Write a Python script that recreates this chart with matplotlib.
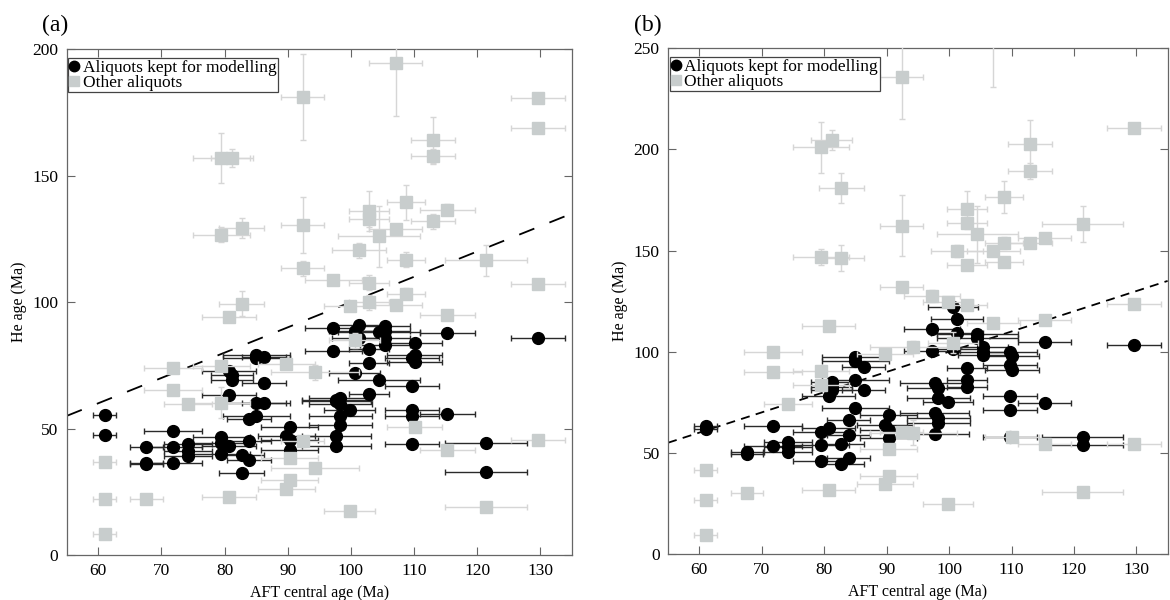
import matplotlib
matplotlib.use("Agg")
import matplotlib.pyplot as plt
from matplotlib.lines import Line2D

plt.rcParams['font.family'] = ['Liberation Serif', 'DejaVu Serif']

# AFT central ages of the samples and their errors (Ma)
aft_age = [61.0, 67.6, 71.8, 74.2, 79.5, 80.7, 81.2, 82.7, 83.9, 85.0, 86.3, 89.8, 90.3,
           92.4, 94.3, 97.2, 97.7, 98.3, 99.8, 100.6, 101.3, 102.9, 104.5, 105.4, 107.1,
           108.8, 109.7, 110.1, 113.0, 115.3, 121.4, 129.6]
aft_err = [1.8, 2.6, 4.6, 3.8, 4.5, 4.3, 3.3, 3.6, 3.5, 5.3, 3.5, 4.5, 4.5,
           3.4, 7.0, 4.5, 5.5, 5.0, 4.0, 4.0, 4.2, 3.2, 6.5, 4.0, 4.2,
           3.0, 4.3, 4.3, 3.5, 4.3, 6.5, 4.3]

# panel (a): kept aliquots
a_kept_x = [61.0, 61.0, 67.6, 67.6, 67.6, 71.8, 71.8, 71.8, 74.2, 74.2, 74.2,
            79.5, 79.5, 79.5, 80.7, 80.7, 80.7, 81.2, 81.2, 82.7, 82.7,
            83.9, 83.9, 83.9, 85.0, 85.0, 85.0, 85.0, 86.3, 86.3, 86.3,
            89.8, 90.3, 90.3, 90.3, 97.2, 97.2, 97.7, 97.7, 97.7, 97.7,
            98.3, 98.3, 98.3, 98.3, 99.8, 100.6, 100.6, 101.3, 101.3,
            102.9, 102.9, 102.9, 104.5, 104.5, 105.4, 105.4, 105.4, 105.4,
            109.7, 109.7, 109.7, 109.7, 109.7, 110.1, 110.1, 110.1,
            115.3, 115.3, 121.4, 121.4, 129.6]
a_kept_y = [55.4, 47.5, 42.8, 36.4, 36.0, 49.2, 42.8, 36.4, 44.0, 41.0, 39.0,
            46.6, 44.2, 40.0, 43.2, 72.6, 63.4, 71.0, 69.3, 39.6, 32.6,
            37.6, 44.9, 53.9, 79.2, 78.0, 60.0, 54.8, 78.3, 68.0, 60.0,
            46.9, 50.8, 45.5, 41.6, 89.8, 80.5, 61.4, 60.7, 47.1, 43.2,
            62.0, 59.6, 55.0, 51.5, 57.4, 88.4, 72.0, 91.1, 85.8,
            81.4, 75.9, 63.8, 88.0, 69.3, 90.4, 88.4, 86.0, 83.2,
            77.9, 66.9, 57.4, 55.0, 43.7, 84.0, 79.2, 76.4,
            87.8, 55.8, 44.2, 33.0, 85.8]
a_kept_yerr = [1.0] * len(a_kept_x)

# panel (a): other aliquots
a_other_x = [61.0, 61.0, 61.0, 67.6, 71.8, 71.8, 74.2, 79.5, 79.5, 79.5, 79.5,
             80.7, 80.7, 81.2, 82.7, 82.7, 89.8, 89.8, 90.3, 90.3,
             92.4, 92.4, 92.4, 92.4, 94.3, 94.3, 97.2, 99.8, 99.8, 100.6, 101.3,
             102.9, 102.9, 102.9, 102.9, 104.5, 107.1, 107.1, 107.1,
             108.8, 108.8, 108.8, 110.1, 113.0, 113.0, 113.0,
             115.3, 115.3, 115.3, 121.4, 121.4, 129.6, 129.6, 129.6, 129.6]
a_other_y = [36.6, 22.0, 8.2, 22.0, 73.9, 65.1, 59.8, 157.0, 126.7, 74.9, 60.3,
             94.0, 23.1, 157.0, 129.4, 99.4, 75.5, 26.0, 38.5, 29.7,
             181.0, 130.4, 113.3, 44.9, 72.2, 34.4, 108.9, 98.3, 17.5, 84.9, 120.5,
             136.0, 132.7, 107.6, 100.0, 126.0, 194.4, 129.0, 99.0,
             139.5, 116.8, 103.4, 50.8, 164.0, 157.7, 132.0,
             136.6, 95.0, 41.6, 116.5, 19.1, 180.6, 169.0, 107.2, 45.3]
a_other_yerr = [1.0, 1.0, 1.0, 1.0, 1.0, 1.0, 1.0, 10.0, 3.0, 2.0, 6.0,
                2.0, 1.0, 3.5, 4.0, 5.0, 2.0, 1.0, 1.0, 1.0,
                17.0, 11.0, 3.0, 2.0, 3.0, 2.0, 2.0, 2.0, 1.0, 3.0, 3.0,
                8.0, 3.0, 3.0, 3.0, 12.0, 21.0, 2.0, 2.0,
                7.0, 3.0, 2.0, 1.0, 9.0, 3.0, 3.0,
                2.0, 2.0, 1.0, 6.0, 1.0, 2.0, 2.0, 1.0, 1.0]

# panel (b): kept aliquots
b_kept_x = [61.0, 61.0, 67.6, 67.6, 71.8, 71.8, 74.2, 74.2, 74.2,
            79.5, 79.5, 79.5, 80.7, 80.7, 81.2, 81.2, 81.2, 82.7, 82.7,
            83.9, 83.9, 83.9, 85.0, 85.0, 85.0, 85.0, 86.3, 86.3,
            89.8, 90.3, 90.3, 90.3, 97.2, 97.2, 97.7, 97.7, 97.7,
            98.3, 98.3, 98.3, 98.3, 99.8, 100.6, 100.6, 101.3, 101.3,
            102.9, 102.9, 102.9, 104.5, 104.5, 105.4, 105.4, 105.4,
            109.7, 109.7, 109.7, 109.7, 109.7, 110.1, 110.1,
            115.3, 115.3, 121.4, 121.4, 129.6]
b_kept_y = [63.5, 61.8, 50.6, 49.4, 63.3, 53.5, 55.5, 53.0, 50.6,
            60.5, 53.7, 46.0, 62.1, 78.0, 82.6, 84.9, 81.1, 54.6, 44.6,
            66.2, 58.8, 47.3, 97.2, 95.5, 85.8, 72.0, 92.5, 81.1,
            64.0, 68.5, 61.5, 57.5, 111.4, 100.4, 84.4, 69.5, 59.3,
            82.2, 77.0, 67.1, 64.6, 75.3, 122.0, 101.5, 116.4, 109.2,
            92.0, 85.8, 82.4, 108.6, 106.6, 102.5, 100.0, 98.4,
            99.7, 93.4, 78.1, 71.2, 57.8, 98.0, 91.2,
            104.6, 74.5, 58.0, 53.7, 103.1]
b_kept_yerr = [1.5] * len(b_kept_x)

# panel (b): other aliquots
b_other_x = [61.0, 61.0, 61.0, 67.6, 71.8, 71.8, 74.2, 79.5, 79.5, 79.5, 79.5,
             80.7, 80.7, 81.2, 82.7, 82.7, 89.8, 89.8, 90.3, 90.3,
             92.4, 92.4, 92.4, 92.4, 94.3, 94.3, 97.2, 99.8, 99.8, 100.6, 101.3,
             102.9, 102.9, 102.9, 102.9, 104.5, 107.1, 107.1, 107.1,
             108.8, 108.8, 108.8, 110.1, 113.0, 113.0, 113.0,
             115.3, 115.3, 115.3, 121.4, 121.4, 129.6, 129.6, 129.6]
b_other_y = [41.5, 26.7, 9.4, 30.3, 99.7, 90.1, 74.0, 201.0, 147.0, 90.3, 83.5,
             112.7, 31.6, 204.7, 180.8, 146.2, 99.0, 34.6, 51.8, 38.6,
             236.0, 162.3, 131.8, 60.5, 102.5, 60.0, 127.7, 124.5, 24.7, 104.5, 149.8,
             170.5, 163.8, 142.9, 123.3, 158.0, 256.0, 150.0, 114.3,
             176.6, 153.9, 144.2, 58.0, 202.5, 189.3, 153.9,
             156.0, 115.5, 54.4, 163.0, 30.8, 210.4, 123.4, 54.4]
b_other_yerr = [1.0, 1.0, 1.0, 1.0, 1.0, 1.0, 1.0, 12.5, 4.0, 2.0, 2.0,
                1.0, 1.0, 5.0, 7.5, 6.5, 2.0, 1.0, 2.0, 1.0,
                21.0, 15.0, 2.0, 2.0, 3.0, 6.0, 3.0, 2.0, 1.0, 5.0, 3.0,
                9.0, 3.0, 2.0, 2.0, 14.0, 25.0, 2.0, 2.0,
                8.0, 3.0, 2.0, 1.0, 12.0, 4.0, 2.0,
                2.0, 2.0, 1.0, 9.0, 1.0, 2.0, 1.0, 1.0]

one_to_one = [55, 135]

GRAY = '#c8cdcd'
GRAY_BAR = '#d6d6d6'
SPINE = '#666666'


def xerr_of(xs):
    return [aft_err[aft_age.index(x)] for x in xs]


def draw_panel(ax, kept, other, ymax, dashes):
    kx, ky, kye = kept
    ox, oy, oye = other
    ax.plot(one_to_one, one_to_one, color='black', lw=1.3, dashes=dashes, zorder=1)
    ax.errorbar(kx, ky, xerr=xerr_of(kx), yerr=kye, fmt='o', ms=8.5, color='black',
                ecolor='#2a2a2a', elinewidth=1.0, capsize=2.5, capthick=1.0, zorder=2)
    ax.errorbar(ox, oy, xerr=xerr_of(ox), yerr=oye, fmt='s', ms=8, color=GRAY,
                ecolor=GRAY_BAR, elinewidth=1.0, capsize=2.5, capthick=1.0, zorder=3)
    ax.set_xlim(55, 135)
    ax.set_ylim(0, ymax)
    ax.set_xticks(range(60, 131, 10))
    ax.set_yticks(range(0, ymax + 1, 50))
    ax.tick_params(direction='in', top=True, right=True, length=6, width=0.8,
                   color=SPINE, labelsize=12.5, pad=6)
    for s in ax.spines.values():
        s.set_color(SPINE)
        s.set_linewidth(0.9)
    ax.set_xlabel('AFT central age (Ma)', fontsize=11.5)
    ax.set_ylabel('He age (Ma)', fontsize=11.5)
    handles = [Line2D([], [], marker='o', ls='', color='black', ms=7.5),
               Line2D([], [], marker='s', ls='', color=GRAY, ms=7.5)]
    leg = ax.legend(handles, ['Aliquots kept for modelling', 'Other aliquots'],
                    loc='upper left', bbox_to_anchor=(0.003, 0.982), borderaxespad=0,
                    fontsize=12.5, handlelength=0.5, handletextpad=0.25,
                    borderpad=0.1, labelspacing=-0.1, fancybox=False, framealpha=1)
    leg.get_frame().set_edgecolor('#444444')
    leg.get_frame().set_linewidth(0.9)


fig = plt.figure(figsize=(11.7, 6.0), dpi=100)
ax_a = fig.add_axes([0.057, 0.075, 0.4317, 0.843])
ax_b = fig.add_axes([0.571, 0.0767, 0.427, 0.8428])

draw_panel(ax_a, (a_kept_x, a_kept_y, a_kept_yerr), (a_other_x, a_other_y, a_other_yerr),
           200, (9, 9))
draw_panel(ax_b, (b_kept_x, b_kept_y, b_kept_yerr), (b_other_x, b_other_y, b_other_yerr),
           250, (5, 3.5))

fig.text(42 / 1170, 1 - 31 / 600, '(a)', fontsize=17)
fig.text(634 / 1170, 1 - 31 / 600, '(b)', fontsize=17)

fig.savefig('out.png', dpi=100)
